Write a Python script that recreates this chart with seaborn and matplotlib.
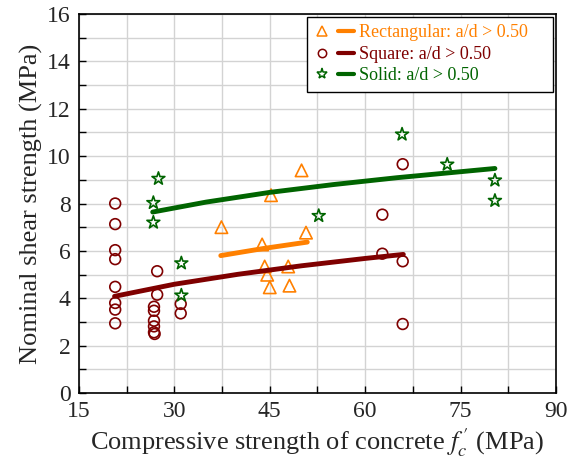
import matplotlib
matplotlib.use("Agg")
import matplotlib.pyplot as plt
import seaborn as sns
from matplotlib.lines import Line2D
from matplotlib.legend_handler import HandlerTuple
from matplotlib.ticker import MultipleLocator

# --- data ---
rect_x = [37.4, 43.8, 44.2, 44.6, 45.0, 45.2, 47.9, 48.1, 50.7, 50.0]
rect_y = [7.0, 6.27, 5.34, 4.99, 4.46, 8.35, 5.34, 4.53, 6.77, 9.4]

square_x = [20.7, 20.7, 20.7, 20.7, 20.7, 20.7, 20.7, 20.7,
            26.8, 26.8, 26.8, 26.8, 26.8, 26.9, 27.3, 27.3,
            31.0, 31.0, 62.7, 62.7, 65.9, 65.9, 65.9]
square_y = [8.0, 7.13, 6.03, 5.65, 4.48, 3.80, 3.52, 2.94,
            3.64, 3.47, 3.05, 2.81, 2.56, 2.49, 5.14, 4.15,
            3.76, 3.36, 7.53, 5.88, 5.56, 2.91, 9.66]

solid_x = [27.5, 26.7, 26.7, 31.1, 31.1, 52.7, 65.8, 72.9, 80.4, 80.4]
solid_y = [9.05, 8.03, 7.2, 5.48, 4.12, 7.48, 10.92, 9.65, 8.98, 8.12]

# trend lines
rect_fit_x = [37.3, 44.0, 50.9]
rect_fit_y = [5.80, 6.10, 6.37]
square_fit_x = [20.6, 30, 40, 50, 60, 66.0]
square_fit_y = [4.08, 4.59, 5.01, 5.37, 5.68, 5.85]
solid_fit_x = [26.6, 35, 45, 55, 65, 80.4]
solid_fit_y = [7.64, 8.06, 8.47, 8.80, 9.09, 9.48]

labels = ["Rectangular: a/d > 0.50", "Square: a/d > 0.50", "Solid: a/d > 0.50"]
colors = ["#ff8000", "#7f0000", "#006400"]

sns.set_theme(style="white")
plt.rcParams["font.family"] = ["Liberation Serif", "DejaVu Serif"]
plt.rcParams["mathtext.fontset"] = "stix"

fig = plt.figure(figsize=(5.72, 4.70), dpi=100)
ax = fig.add_axes([0.138, 0.164, 0.834, 0.806])

series = [
    (rect_x, rect_y, rect_fit_x, rect_fit_y, "^", 80, 7),
    (square_x, square_y, square_fit_x, square_fit_y, "o", 60, 6),
    (solid_x, solid_y, solid_fit_x, solid_fit_y, "*", 95, 8),
]
handles = []
for (x, y, fx, fy, m, s, ms), c in zip(series, colors):
    sns.scatterplot(x=x, y=y, marker=m, s=s, facecolors="none",
                    edgecolor=c, linewidth=1.2, ax=ax, zorder=3)
    sns.lineplot(x=fx, y=fy, color=c, linewidth=3.5, ax=ax, zorder=4)
    mk = Line2D([], [], linestyle="none", marker=m, markersize=ms,
                markerfacecolor="none", markeredgecolor=c, markeredgewidth=1.1)
    ln = Line2D([], [], color=c, linewidth=3.0)
    handles.append((mk, ln))

ax.set_xlim(15, 90)
ax.set_ylim(0, 16)
ax.xaxis.set_major_locator(MultipleLocator(15))
ax.xaxis.set_minor_locator(MultipleLocator(7.5))
ax.yaxis.set_major_locator(MultipleLocator(2))
ax.yaxis.set_minor_locator(MultipleLocator(1))
ax.grid(True, which="both", color="#d3d3d3", linewidth=1.0)
ax.set_axisbelow(True)
ax.tick_params(which="both", direction="in", length=5, width=1, color="black",
               labelsize=17, top=False, right=False, bottom=True, left=True)
ax.tick_params(axis="y", pad=6)
ax.tick_params(axis="x", pad=6)
for sp in ax.spines.values():
    sp.set_color("black")
    sp.set_linewidth(1.2)

ax.set_xlabel(r"Compressive strength of concrete $f_c^{\,\prime}$ (MPa)",
              fontsize=19, labelpad=3)
ax.set_ylabel("Nominal shear strength (MPa)", fontsize=19, labelpad=3)

# trailing spaces widen the box on the right, as in the reference
leg = ax.legend(handles, [l + "    " for l in labels], loc="upper right", fontsize=13,
                handler_map={tuple: HandlerTuple(ndivide=None, pad=0.5)},
                handlelength=2.2, handletextpad=0.28, labelspacing=0.25,
                borderpad=0.4, borderaxespad=0.17, fancybox=False,
                framealpha=1, edgecolor="black")
leg.get_frame().set_linewidth(1.0)
for t, c in zip(leg.get_texts(), colors):
    t.set_color(c)

fig.savefig("out.png", dpi=100)
